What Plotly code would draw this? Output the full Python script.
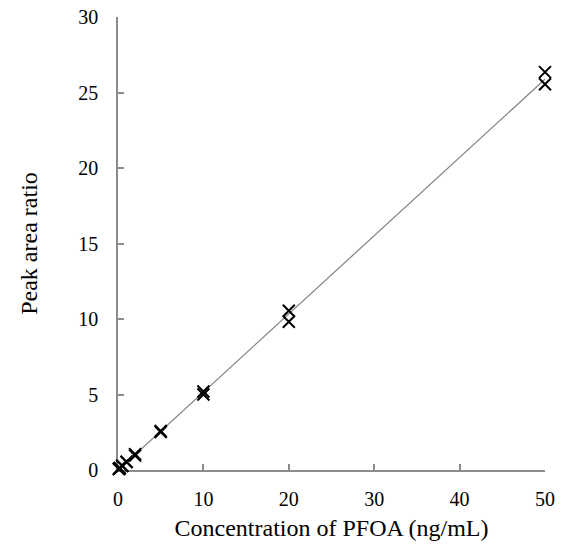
import numpy as np
import plotly.graph_objects as go

conc = [0.1, 0.1, 0.2, 0.2, 0.5, 0.5, 1, 1, 2, 2, 5, 5, 10, 10, 20, 20, 50, 50]
ratio = [0.06, 0.08, 0.11, 0.13, 0.27, 0.29, 0.52, 0.55, 1.05, 0.95, 2.58, 2.52, 5.2, 5.0, 10.55, 9.82, 26.35, 25.55]

x_ticks = [0, 10, 20, 30, 40, 50]
y_ticks = [0, 5, 10, 15, 20, 25, 30]

slope, intercept = np.polyfit(conc, ratio, 1)
fit_x = [0, 50]
fit_y = [slope * v + intercept for v in fit_x]

font = "Liberation Serif, Times New Roman, serif"
axis_col = "#8c8c8c"

fig = go.Figure()
fig.add_trace(go.Scatter(x=fit_x, y=fit_y, mode="lines",
                         line=dict(color="#7f7f7f", width=1.2),
                         showlegend=False, hoverinfo="skip", cliponaxis=False))
fig.add_trace(go.Scatter(x=conc, y=ratio, mode="markers",
                         marker=dict(symbol="x-thin", size=12,
                                     line=dict(color="black", width=2)),
                         showlegend=False, cliponaxis=False))

fig.update_layout(
    width=565, height=549,
    margin=dict(l=118, r=20, t=17, b=79, autoexpand=False),
    paper_bgcolor="white", plot_bgcolor="white",
    font=dict(family=font, size=20, color="black"),
    xaxis=dict(range=[0, 50], tickvals=x_ticks, showgrid=False, zeroline=False,
               showline=True, linecolor=axis_col, linewidth=1.5,
               ticks="inside", ticklen=6, tickcolor=axis_col, tickwidth=1.5,
               ticklabelstandoff=10, layer="below traces",
               title=dict(text="Concentration of PFOA (ng/mL)", standoff=10),
               automargin=False),
    yaxis=dict(range=[0, 30], tickvals=y_ticks, showgrid=False, zeroline=False,
               showline=True, linecolor=axis_col, linewidth=1.5,
               ticks="inside", ticklen=6, tickcolor=axis_col, tickwidth=1.5,
               ticklabelstandoff=14, layer="below traces",
               title=dict(text="Peak area ratio", standoff=34),
               automargin=False),
)

fig.write_html("out.html")
